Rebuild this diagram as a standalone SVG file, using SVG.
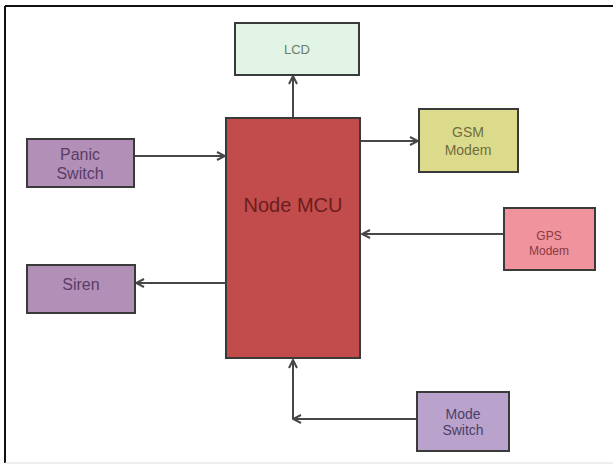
<svg xmlns="http://www.w3.org/2000/svg" width="613" height="464" viewBox="0 0 613 464">
<defs>
<style>
.box{stroke:#3a3a3a;stroke-width:2}
.t{font-family:"Liberation Sans",Arial,sans-serif;text-anchor:middle;dominant-baseline:central}
.c{fill:none;stroke:#474747;stroke-width:2}
</style>
<marker id="ah" viewBox="0 0 10 10" refX="9" refY="5" markerWidth="10" markerHeight="10" markerUnits="userSpaceOnUse" orient="auto">
<path d="M1,1 L9,5 L1,9" fill="none" stroke="#474747" stroke-width="2"/>
</marker>
</defs>
<rect width="613" height="464" fill="#ffffff"/>
<g id="frame">
<line x1="5" y1="6" x2="613" y2="6" stroke="#111" stroke-width="2"/>
<line x1="5" y1="6" x2="5" y2="463" stroke="#111" stroke-width="2"/>
<line x1="5" y1="463" x2="613" y2="463" stroke="#ddd" stroke-width="1"/>
</g>
<g id="connectors">
<line class="c" x1="293" y1="117" x2="293" y2="76" marker-end="url(#ah)"/>
<line class="c" x1="361" y1="141" x2="418" y2="141" marker-end="url(#ah)"/>
<line class="c" x1="135" y1="156" x2="225" y2="156" marker-end="url(#ah)"/>
<line class="c" x1="503" y1="234" x2="362" y2="234" marker-end="url(#ah)"/>
<line class="c" x1="225" y1="283" x2="136" y2="283" marker-end="url(#ah)"/>
<line class="c" x1="416" y1="419" x2="293" y2="419" marker-end="url(#ah)"/>
<line class="c" x1="293" y1="419" x2="293" y2="360" marker-end="url(#ah)"/>
</g>
<g id="lcd">
<rect class="box" x="235" y="23" width="124" height="52" fill="#e2f4e5"/>
<text class="t" x="297" y="49" font-size="13" fill="#6c7a70">LCD</text>
</g>
<g id="mcu">
<rect class="box" x="226" y="118" width="134" height="240" fill="#c24c4b"/>
<text class="t" x="293" y="205" font-size="20" fill="#6b1d1d">Node MCU</text>
</g>
<g id="gsm">
<rect class="box" x="419" y="109" width="99" height="63" fill="#dcdb8c"/>
<text class="t" x="468" y="132" font-size="14" fill="#6e6c40">GSM</text>
<text class="t" x="468" y="150" font-size="14" fill="#6e6c40">Modem</text>
</g>
<g id="panic">
<rect class="box" x="27" y="139" width="107" height="48" fill="#b18fb6"/>
<text class="t" x="80" y="154" font-size="16" fill="#5a3c68">Panic</text>
<text class="t" x="80" y="173" font-size="16" fill="#5a3c68">Switch</text>
</g>
<g id="gps">
<rect class="box" x="504" y="208" width="91" height="62" fill="#f0939d"/>
<text class="t" x="549" y="236" font-size="12" fill="#8a3a42">GPS</text>
<text class="t" x="549" y="251" font-size="12" fill="#8a3a42">Modem</text>
</g>
<g id="siren">
<rect class="box" x="27" y="265" width="108" height="48" fill="#b18fb6"/>
<text class="t" x="81" y="284" font-size="16" fill="#5a3c68">Siren</text>
</g>
<g id="mode">
<rect class="box" x="417" y="392" width="92" height="59" fill="#b9a3cc"/>
<text class="t" x="463" y="414" font-size="14" fill="#4c3e68">Mode</text>
<text class="t" x="463" y="430" font-size="14" fill="#4c3e68">Switch</text>
</g>
</svg>
